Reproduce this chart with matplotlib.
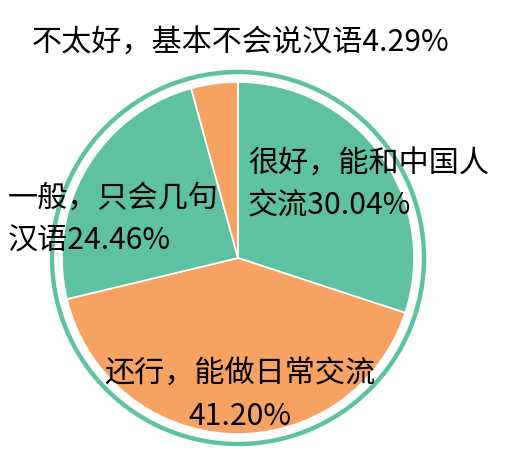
import matplotlib.pyplot as plt
from matplotlib.patches import Circle

plt.rcParams['font.family'] = ['Noto Sans CJK SC', 'DejaVu Sans']

categories = ['很好，能和中国人\n交流', '还行，能做日常交流\n', '一般，只会几句\n汉语', '不太好，基本不会说汉语']
values = [30.04, 41.20, 24.46, 4.29]
colors = ['#5ec1a2', '#f5a262', '#5ec1a2', '#f5a262']

W, H = 507, 462
fig = plt.figure(figsize=(W / 100, H / 100), dpi=100)
ax = fig.add_axes([0, 0, 1, 1])
ax.set_xlim(0, W)
ax.set_ylim(0, H)
ax.set_aspect('equal')
ax.axis('off')

cx, cy, r = 238, H - 258, 176
ax.pie(values, colors=colors, startangle=90, counterclock=False,
       center=(cx, cy), radius=r,
       wedgeprops=dict(edgecolor='white', linewidth=1.2))
ax.add_patch(Circle((cx, cy), r + 10, fill=False, edgecolor='#5ec1a2', linewidth=3.2))

ax.set_xlim(0, W)
ax.set_ylim(0, H)

# label placement (x, y in pixel coords, alignment)
spots = [(248, H - 185, 'left'), (240, H - 395, 'center'), (8, H - 220, 'left'), (241, H - 42, 'center')]
for cat, val, (x, y, ha) in zip(categories, values, spots):
    ax.text(x, y, f'{cat}{val:.2f}%', ha=ha, va='center', multialignment=ha,
            fontsize=21.7, fontweight=500, linespacing=1.5, color='black')

fig.savefig('out.png', dpi=100)
